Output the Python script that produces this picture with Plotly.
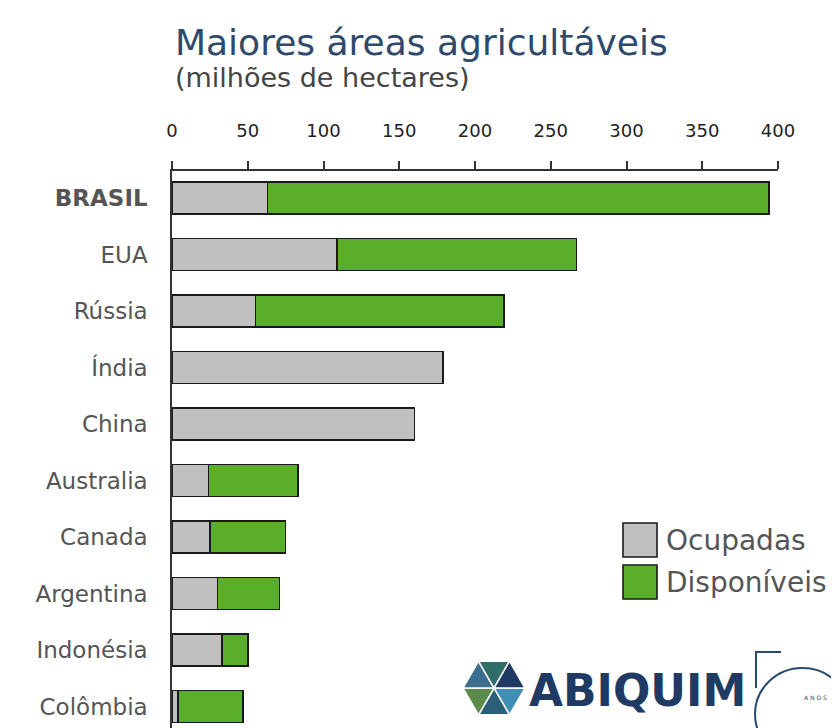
import plotly.graph_objects as go

countries = ["BRASIL", "EUA", "Rússia", "Índia", "China", "Australia",
             "Canada", "Argentina", "Indonésia", "Colômbia"]
ocupadas = [63, 109, 55, 179, 160, 24, 25, 30, 33, 4]
disponiveis = [331, 158, 164, None, None, 59, 50, 41, 17, 43]
x_ticks = [0, 50, 100, 150, 200, 250, 300, 350, 400]

# page body has an 8px margin: screen coords = figure coords + 8
OFF = 8
W, H = 839, 728
L, R, T, B = 164, 69, 163, 8
pw, ph = W - L - R, H - T - B


def px(x):
    return (x - OFF - L) / pw


def py(y):
    return 1 - (y - OFF - T) / ph


pos = list(range(len(countries)))
labels = ["<b>BRASIL</b>" if c == "BRASIL" else c for c in countries]

FONT = "'DejaVu Sans', sans-serif"
GRAY = "#c0c0c0"
GREEN = "#5aae2a"
EDGE = "#1a1a1a"

fig = go.Figure()
fig.add_trace(go.Bar(
    y=pos, x=ocupadas, orientation="h", name="Ocupadas", width=0.57,
    marker=dict(color=GRAY, line=dict(color=EDGE, width=1.6)),
))
fig.add_trace(go.Bar(
    y=pos, x=disponiveis, orientation="h", name="Disponíveis", width=0.57,
    marker=dict(color=GREEN, line=dict(color=EDGE, width=1.6)),
))

fig.update_layout(
    width=W, height=H, barmode="stack", showlegend=False,
    margin=dict(l=L, r=R, t=T, b=B),
    paper_bgcolor="white", plot_bgcolor="white",
    font=dict(family=FONT, color="#555555"),
    xaxis=dict(
        side="top", range=[0, 400], tickvals=x_ticks,
        ticktext=[str(v) for v in x_ticks],
        showgrid=False, zeroline=False, showline=True, linecolor="#333333",
        linewidth=1.5, ticks="outside", ticklen=8, tickcolor="#333333",
        tickwidth=1.5, ticklabelstandoff=17,
        tickfont=dict(size=18, color="#222222", family=FONT),
        fixedrange=True,
    ),
    yaxis=dict(
        range=[9.38, -0.478], tickvals=pos, ticktext=labels,
        showgrid=False, zeroline=False, showline=True, linecolor="#333333",
        linewidth=1.5, ticks="", ticklabelstandoff=18,
        tickfont=dict(size=23, color="#555555", family=FONT),
        fixedrange=True,
    ),
)

annotations = [
    dict(text="Maiores áreas agricultáveis", xref="paper", yref="paper",
         x=px(173), y=py(42), xanchor="left", yanchor="middle",
         showarrow=False, font=dict(size=36, color="#2d4a6c", family=FONT)),
    dict(text="(milhões de hectares)", xref="paper", yref="paper",
         x=px(173), y=py(78), xanchor="left", yanchor="middle",
         showarrow=False, font=dict(size=27, color="#444444", family=FONT)),
    dict(text="Ocupadas", xref="paper", yref="paper",
         x=px(664), y=py(540), xanchor="left", yanchor="middle",
         showarrow=False, font=dict(size=28, color="#555555", family=FONT)),
    dict(text="Disponíveis", xref="paper", yref="paper",
         x=px(664), y=py(582), xanchor="left", yanchor="middle",
         showarrow=False, font=dict(size=28, color="#555555", family=FONT)),
    dict(text="<b>ABIQUIM</b>", xref="paper", yref="paper",
         x=px(527), y=py(690), xanchor="left", yanchor="middle",
         showarrow=False, font=dict(size=44, color="#1f3b63", family=FONT)),
    dict(text="A N O S", xref="paper", yref="paper",
         x=px(815), y=py(697), xanchor="center", yanchor="middle",
         showarrow=False, font=dict(size=6, color="#2a4870", family=FONT)),
]
fig.update_layout(annotations=annotations)

NAVY = "#2a4870"
shapes = [
    dict(type="rect", xref="paper", yref="paper",
         x0=px(623), x1=px(657), y0=py(557), y1=py(523),
         fillcolor=GRAY, line=dict(color=EDGE, width=1.6)),
    dict(type="rect", xref="paper", yref="paper",
         x0=px(623), x1=px(657), y0=py(599), y1=py(565),
         fillcolor=GREEN, line=dict(color=EDGE, width=1.6)),
    # "50" logo strokes
    dict(type="line", xref="paper", yref="paper",
         x0=px(755), x1=px(781), y0=py(652), y1=py(652),
         line=dict(color=NAVY, width=2)),
    dict(type="line", xref="paper", yref="paper",
         x0=px(756), x1=px(756), y0=py(652), y1=py(688),
         line=dict(color=NAVY, width=2)),
    dict(type="circle", xref="paper", yref="paper",
         x0=px(755), x1=px(850), y0=py(760), y1=py(668),
         line=dict(color=NAVY, width=2)),
]
# simple hexagon logo mark
cx, cy, r = 494, 688, 31
hex_pts = [(cx + r * c, cy + r * s) for c, s in
           [(1, 0), (0.5, 0.866), (-0.5, 0.866), (-1, 0), (-0.5, -0.866), (0.5, -0.866)]]
colors = ["#3f8fb5", "#2b5f7a", "#5a8b4a", "#3c6f8f", "#2f6c6a", "#1f3b63"]
for i in range(6):
    a = hex_pts[i]
    b = hex_pts[(i + 1) % 6]
    path = "M {} {} L {} {} L {} {} Z".format(px(cx), py(cy), px(a[0]), py(a[1]),
                                              px(b[0]), py(b[1]))
    shapes.append(dict(type="path", xref="paper", yref="paper", path=path,
                       fillcolor=colors[i], line=dict(color="white", width=1.5)))
fig.update_layout(shapes=shapes)

fig.write_html("out.html")
